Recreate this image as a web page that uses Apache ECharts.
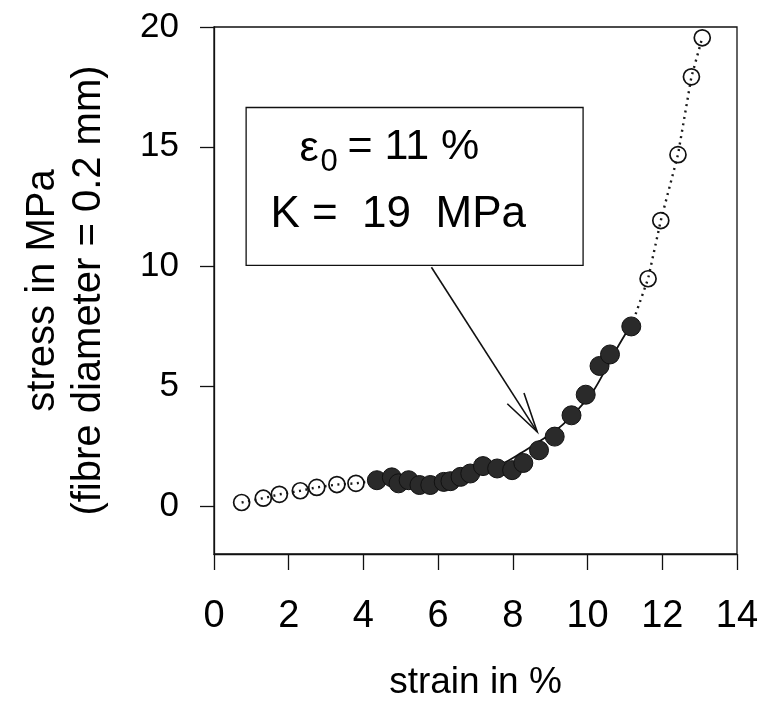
<!DOCTYPE html>
<html><head><meta charset="utf-8">
<script src="https://cdn.jsdelivr.net/npm/echarts@6/dist/echarts.min.js"></script>
<style>html,body{margin:0;padding:0;background:#fff}#c{width:782px;height:707px}</style>
</head><body><div id="c"></div>
<script>
// ---- data ----
const openLowX  = [0.74, 1.32, 1.75, 2.31, 2.75, 3.29, 3.80];
const openLowY  = [0.15, 0.33, 0.49, 0.64, 0.78, 0.90, 0.95];
const filledX = [4.36, 4.76, 4.94, 5.21, 5.50, 5.79, 6.15, 6.33, 6.60, 6.86, 7.20, 7.58, 7.98, 8.28, 8.70, 9.12, 9.57, 9.95, 10.32, 10.60, 11.17];
const filledY = [1.08, 1.20, 0.95, 1.08, 0.88, 0.88, 1.01, 1.04, 1.22, 1.36, 1.67, 1.57, 1.50, 1.80, 2.33, 2.90, 3.79, 4.65, 5.85, 6.33, 7.50];
const openHighX = [11.62, 11.96, 12.42, 12.78, 13.07];
const openHighY = [9.49, 11.92, 14.67, 17.92, 19.55];
const fitX = [4.36, 5.00, 5.80, 6.60, 7.20, 7.76, 8.20, 8.56, 8.87, 9.32, 9.77, 10.17, 10.48, 10.80, 11.15];
const fitY = [1.00, 0.98, 1.02, 1.28, 1.52, 1.81, 2.20, 2.55, 2.86, 3.38, 4.08, 4.85, 5.70, 6.62, 7.54];
const yTicks = [0, 5, 10, 15, 20];
const xTitle = 'strain in %';
const yTitle = ['stress in MPa', '(fibre diameter = 0.2 mm)'];
const noteEps = ['ε', '0', '= 11 %'];
const noteK = 'K =  19  MPa';

// ---- layout (data coordinates of annotation elements) ----
const noteBox = {x0: 0.86, x1: 9.88, y0: 10.05, y1: 16.64};
const noteLine1 = [4.91, 14.97];
const noteLine2 = [4.93, 12.17];
const arrowFrom = [5.82, 9.97];
const arrowTo = [8.65, 3.10];

const FONT = '"Liberation Sans", Arial, Helvetica, sans-serif';
const BLACK = '#111';
const pairs = (xs, ys) => xs.map((x, i) => [x, ys[i]]);
const last = filledX.length - 1;
const lowDots = pairs(openLowX, openLowY).concat([[filledX[0], filledY[0]]]);
const highDots = [[filledX[last], filledY[last]]].concat(pairs(openHighX, openHighY));

const chart = echarts.init(document.getElementById('c'), null, {renderer: 'canvas'});
const dotted = {type: [2, 4.5], width: 2.4, color: '#1a1a1a'};
chart.setOption({
  animation: false,
  grid: {left: 214, right: 45, top: 27, bottom: 153, show: true, borderColor: BLACK, borderWidth: 1.3},
  xAxis: {
    type: 'value', min: 0, max: 14, interval: 2,
    axisLine: {onZero: false, lineStyle: {color: BLACK, width: 1.3}},
    axisTick: {length: 16, lineStyle: {color: BLACK, width: 1.3}},
    axisLabel: {fontSize: 38, color: '#000', fontFamily: FONT, margin: 44},
    splitLine: {show: false},
    name: xTitle, nameLocation: 'middle', nameGap: 110,
    nameTextStyle: {fontSize: 37, color: '#000', fontFamily: FONT}
  },
  yAxis: {
    type: 'value', min: -2, max: 20,
    axisLine: {onZero: false, lineStyle: {color: BLACK, width: 1.3}},
    axisTick: {length: 14, customValues: yTicks, lineStyle: {color: BLACK, width: 1.3}},
    axisLabel: {customValues: yTicks, fontSize: 35, color: '#000', fontFamily: FONT, margin: 35},
    splitLine: {show: false},
    name: yTitle.join('\n'), nameLocation: 'middle', nameGap: 102, nameRotate: 90,
    nameTextStyle: {fontSize: 40, lineHeight: 46, color: '#000', fontFamily: FONT, align: 'center'}
  },
  series: [
    {type: 'line', data: lowDots, symbol: 'none', lineStyle: dotted, silent: true, z: 1},
    {type: 'line', data: highDots, symbol: 'none', lineStyle: dotted, silent: true, z: 1},
    {type: 'line', data: pairs(fitX, fitY), symbol: 'none', smooth: 0.3,
     lineStyle: {color: BLACK, width: 1.8}, silent: true, z: 2},
    {type: 'scatter', data: pairs(filledX, filledY), symbol: 'circle', symbolSize: 19,
     itemStyle: {color: '#2a2a2a', borderColor: '#111', borderWidth: 1, opacity: 1}, silent: true, z: 3},
    {type: 'scatter', data: pairs(openLowX, openLowY).concat(pairs(openHighX, openHighY)),
     symbol: 'circle', symbolSize: 16,
     itemStyle: {color: 'rgba(255,255,255,0)', borderColor: '#111', borderWidth: 1.7, opacity: 1}, silent: true, z: 4}
  ]
});

const P = (p) => chart.convertToPixel({gridIndex: 0}, p);
const b0 = P([noteBox.x0, noteBox.y1]);
const b1 = P([noteBox.x1, noteBox.y0]);
const l1 = P(noteLine1);
const l2 = P(noteLine2);
const a0 = P(arrowFrom);
const a1 = P(arrowTo);
const ang = Math.atan2(a0[1] - a1[1], a0[0] - a1[0]);
const hl = 41, spread = 14 * Math.PI / 180;
const h1 = [a1[0] + hl * Math.cos(ang - spread), a1[1] + hl * Math.sin(ang - spread)];
const h2 = [a1[0] + hl * Math.cos(ang + spread), a1[1] + hl * Math.sin(ang + spread)];
const txt = (x, y, s, size) => ({type: 'text', x: x, y: y, z: 11, silent: true,
  style: {text: s, fontSize: size, fontFamily: FONT, fill: '#000', align: 'left', verticalAlign: 'middle'}});

chart.setOption({
  graphic: [
    {type: 'rect', shape: {x: b0[0], y: b0[1], width: b1[0] - b0[0], height: b1[1] - b0[1]},
     style: {fill: '#fff', stroke: BLACK, lineWidth: 1.3}, z: 10, silent: true},
    txt(l1[0] - 98, l1[1] + 2, noteEps[0], 43),
    txt(l1[0] - 77, l1[1] + 15, noteEps[1], 31),
    txt(l1[0] - 50, l1[1], noteEps[2], 43),
    {type: 'text', x: l2[0], y: l2[1], z: 11, silent: true,
     style: {text: noteK, fontSize: 44, fontFamily: FONT, fill: '#000', align: 'center', verticalAlign: 'middle'}},
    {type: 'polyline', shape: {points: [a0, a1]}, style: {stroke: BLACK, lineWidth: 1.6, fill: null}, z: 10, silent: true},
    {type: 'polyline', shape: {points: [h1, a1, h2]}, style: {stroke: BLACK, lineWidth: 1.6, fill: null}, z: 10, silent: true}
  ]
});
</script></body></html>
